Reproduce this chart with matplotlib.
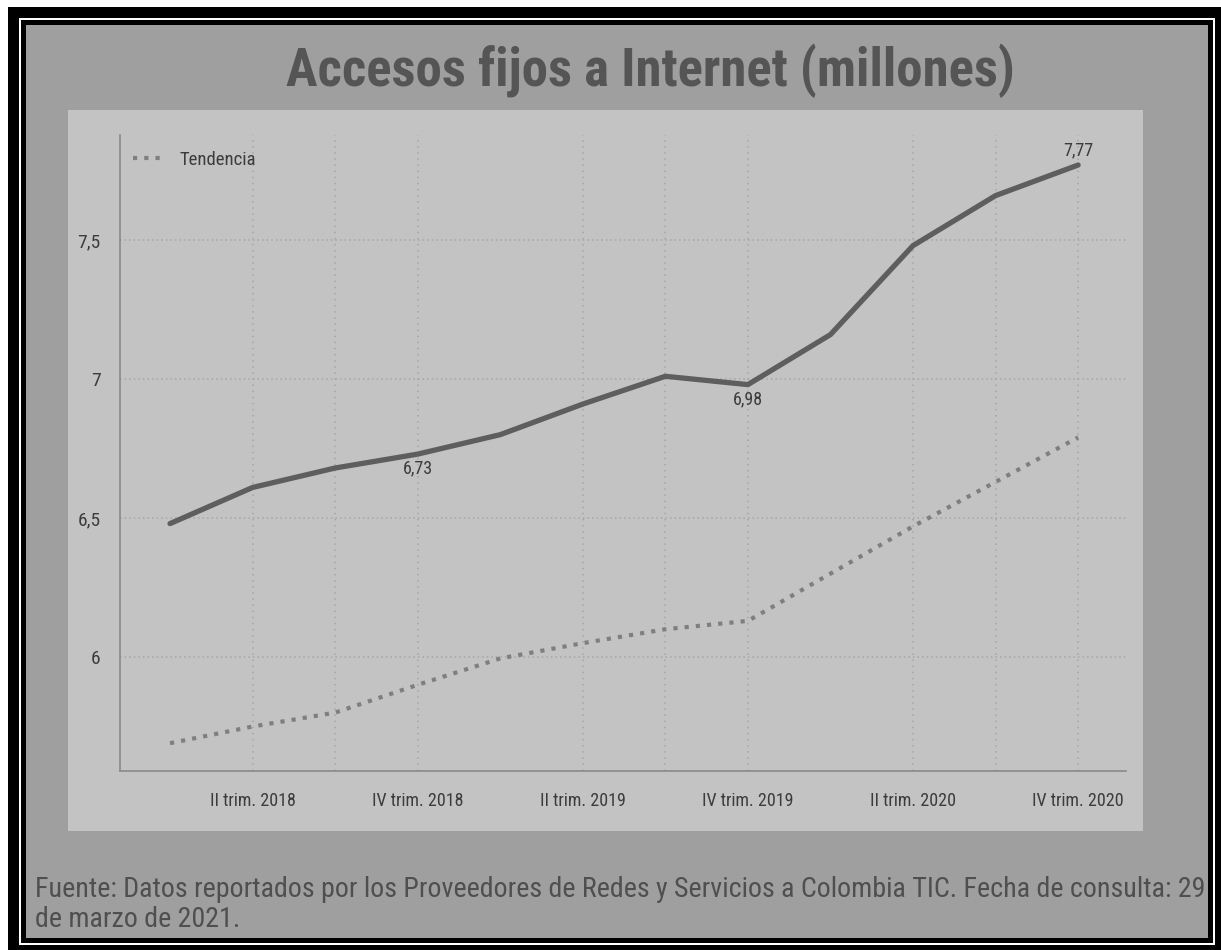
import matplotlib
matplotlib.use("Agg")
import matplotlib.pyplot as plt
import matplotlib.font_manager as fm
from matplotlib.patches import Rectangle
from matplotlib.lines import Line2D

# ---------------- data ----------------
quarters = ["I trim. 2018", "II trim. 2018", "III trim. 2018", "IV trim. 2018",
            "I trim. 2019", "II trim. 2019", "III trim. 2019", "IV trim. 2019",
            "I trim. 2020", "II trim. 2020", "III trim. 2020", "IV trim. 2020"]
accesos = [6.48, 6.61, 6.68, 6.73, 6.80, 6.91, 7.01, 6.98, 7.16, 7.48, 7.66, 7.77]
tendencia = [5.69, 5.75, 5.80, 5.90, 5.995, 6.05, 6.10, 6.13, 6.30, 6.47, 6.63, 6.79]
label_idx = [3, 7, 11]
xtick_idx = [1, 3, 5, 7, 9, 11]
vgrid_idx = [1, 2, 3, 5, 6, 7, 9, 10, 11]
yticks = [6.0, 6.5, 7.0, 7.5]
ytick_labels = ["6", "6,5", "7", "7,5"]
title = "Accesos fijos a Internet (millones)"
footer_lines = ["Fuente: Datos reportados por los Proveedores de Redes y Servicios a Colombia TIC. Fecha de consulta: 29",
                "de marzo de 2021."]

# ---------------- fonts ----------------
names = {f.name for f in fm.fontManager.ttflist}
def pick(cands):
    for c in cands:
        if c in names:
            return c
    return "DejaVu Sans"
narrow = pick(["Liberation Sans Narrow", "Roboto Condensed", "Open Sans Condensed", "Liberation Sans", "DejaVu Sans"])
plt.rcParams["font.family"] = [narrow, "DejaVu Sans"]

W, H = 1221, 950
fig = plt.figure(figsize=(W / 100, H / 100), dpi=100, facecolor="white")

def prect(x0, y0, x1, y1, color, z):
    r = Rectangle((x0 / W, 1 - y1 / H), (x1 - x0) / W, (y1 - y0) / H,
                  transform=fig.transFigure, facecolor=color, edgecolor="none", zorder=z)
    fig.add_artist(r)

prect(8, 7, 1221, 950, "black", -10)
prect(19, 18, 1215, 945, "white", -9)
prect(21, 20, 1213, 943, "black", -8)
prect(26, 25, 1208, 938, "#9f9f9f", -7)
prect(68, 110, 1143, 831, "#c3c3c3", -6)

# ---------------- axes ----------------
ax_l, ax_r, ax_t, ax_b = 120, 1126, 135, 771
ax = fig.add_axes([ax_l / W, 1 - ax_b / H, (ax_r - ax_l) / W, (ax_b - ax_t) / H])
ax.set_facecolor("none")

x = list(range(len(quarters)))
ax.set_xlim(-0.606, 11.58)
ax.set_ylim(5.59, 7.878)

for yv in yticks:
    ax.axhline(yv, color="#a6a6a6", lw=1.1, ls=(0, (1, 2)), zorder=1)
for i in vgrid_idx:
    ax.axvline(x[i], color="#a6a6a6", lw=1.1, ls=(0, (1, 3)), zorder=1)

ax.plot(x, tendencia, color="#7f7f7f", lw=3.0, ls=(0, (1, 1.7)), zorder=3)
ax.plot(x, accesos, color="#5e5e5e", lw=3.8, solid_capstyle="round",
        solid_joinstyle="round", zorder=4)

for i in label_idx:
    txt = f"{accesos[i]:.2f}".replace(".", ",")
    if i == len(x) - 1:
        ax.annotate(txt, (x[i], accesos[i]), xytext=(0, 4), textcoords="offset points",
                    ha="center", va="bottom", fontsize=13, color="#3c3c3c")
    else:
        ax.annotate(txt, (x[i], accesos[i]), xytext=(0, -4), textcoords="offset points",
                    ha="center", va="top", fontsize=13, color="#3c3c3c")

ax.set_xticks([x[i] for i in xtick_idx])
ax.set_xticklabels([quarters[i] for i in xtick_idx])
ax.set_yticks(yticks)
ax.set_yticklabels(ytick_labels)
ax.tick_params(axis="x", length=0, pad=15, labelsize=13, colors="#3c3c3c")
ax.tick_params(axis="y", length=0, pad=14, labelsize=14, colors="#3c3c3c")
for s in ["top", "right"]:
    ax.spines[s].set_visible(False)
for s in ["left", "bottom"]:
    ax.spines[s].set_color("#8a8a8a")
    ax.spines[s].set_linewidth(1.2)

handle = Line2D([], [], color="#7f7f7f", lw=3.0, ls=(0, (1, 1.7)))
ax.legend([handle], ["Tendencia"], loc="upper left", bbox_to_anchor=(0.013, 0.975),
          frameon=False, borderpad=0, borderaxespad=0, handlelength=1.7,
          handletextpad=0.8, prop={"size": 13.5}, labelcolor="#3c3c3c")

# ---------------- texts ----------------
fig.text(650 / W, 1 - 86 / H, title, ha="center", va="baseline",
         fontsize=38, fontweight="bold", color="#555555")
for k, line in enumerate(footer_lines):
    fig.text(35 / W, 1 - (897 + 30 * k) / H, line, ha="left", va="baseline",
             fontsize=20.2, color="#4f4f4f")

fig.savefig("out.png", dpi=100, facecolor="white")
